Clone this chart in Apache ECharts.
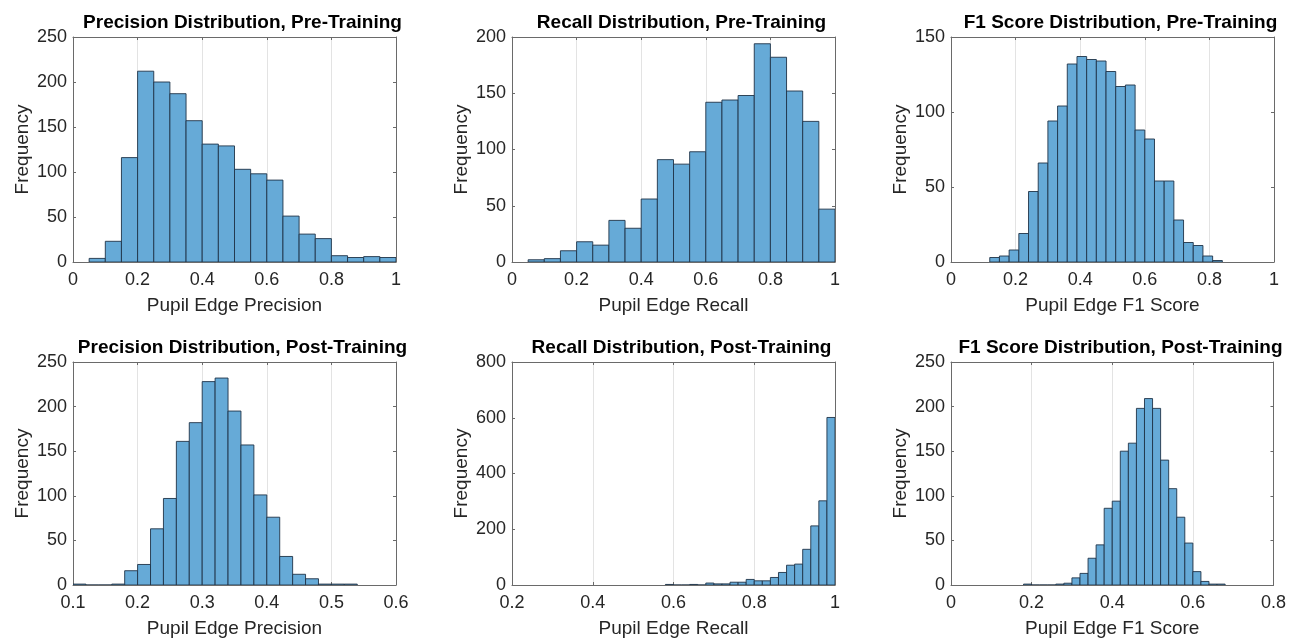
<!DOCTYPE html>
<html>
<head>
<meta charset="utf-8">
<script src="https://cdn.jsdelivr.net/npm/echarts@6/dist/echarts.min.js"></script>
<style>
html,body{margin:0;padding:0;background:#fff;}
#chart{width:1289px;height:639px;}
</style>
</head>
<body>
<div id="chart"></div>
<script>
// ---- Data ----
const titles = [
  'Precision Distribution, Pre-Training',
  'Recall Distribution, Pre-Training',
  'F1 Score Distribution, Pre-Training',
  'Precision Distribution, Post-Training',
  'Recall Distribution, Post-Training',
  'F1 Score Distribution, Post-Training'
];
const xNames = [
  'Pupil Edge Precision', 'Pupil Edge Recall', 'Pupil Edge F1 Score',
  'Pupil Edge Precision', 'Pupil Edge Recall', 'Pupil Edge F1 Score'
];
const yName = 'Frequency';

// bin start and bin width per panel
const binStart = [0.05, 0.05, 0.12, 0.10, 0.58, 0.18];
const binWidth = [0.05, 0.05, 0.03, 0.02, 0.02, 0.02];

// counts per bin
const precisionPre  = [4, 23, 116, 212, 200, 187, 157, 131, 129, 103, 98, 91, 51, 31, 26, 7, 5, 6, 5];
const recallPre     = [2, 3, 10, 18, 15, 37, 30, 56, 91, 87, 98, 142, 144, 148, 194, 182, 152, 125, 47];
const f1Pre         = [3, 4, 8, 19, 47, 66, 94, 104, 132, 137, 135, 134, 127, 117, 118, 88, 82, 54, 54, 28, 13, 11, 4, 1];
const precisionPost = [1, 0, 0, 1, 16, 23, 63, 97, 161, 182, 228, 232, 195, 157, 101, 76, 32, 12, 7, 1, 1, 1];
const recallPost    = [2, 0, 0, 2, 0, 7, 4, 4, 10, 10, 20, 15, 15, 27, 45, 71, 75, 128, 212, 302, 601];
const f1Post        = [1, 0, 0, 0, 1, 2, 8, 13, 30, 45, 86, 94, 150, 159, 198, 209, 198, 140, 108, 76, 47, 15, 4, 1, 1];

// axis ranges / ticks
const xMin = [0, 0, 0, 0.1, 0.2, 0];
const xMax = [1, 1, 1, 0.6, 1, 0.8];
const xInterval = [0.2, 0.2, 0.2, 0.1, 0.2, 0.2];
const yMax = [250, 200, 150, 250, 800, 250];
const yInterval = [50, 50, 50, 50, 200, 50];

const counts = [precisionPre, recallPre, f1Pre, precisionPost, recallPost, f1Post];

// ---- Layout ----
const gridLefts = [73, 512, 951];
const gridTops = [37, 362];
const gridW = 323, gridH = 225;
const FONT = '"Liberation Sans", Arial, Helvetica, sans-serif';
const TXT = '#262626';
const BOX = '#6a6a6a';

const grids = [], xAxes = [], yAxes = [], series = [], titleOpts = [];

for (let i = 0; i < 6; i++) {
  const col = i % 3, row = Math.floor(i / 3);
  grids.push({left: gridLefts[col], top: gridTops[row], width: gridW, height: gridH, containLabel: false});
  titleOpts.push({
    text: titles[i],
    left: gridLefts[col] + gridW / 2 + 3,
    top: gridTops[row] - 29,
    textAlign: 'center',
    textStyle: {fontFamily: FONT, fontWeight: 'bold', fontSize: 19, color: '#000'}
  });
  const common = {
    type: 'value', gridIndex: i, min: xMin[i], max: xMax[i], interval: xInterval[i]
  };
  xAxes.push(Object.assign({}, common, {
    position: 'bottom',
    name: xNames[i], nameLocation: 'middle', nameGap: 34,
    nameTextStyle: {fontFamily: FONT, fontSize: 19, color: TXT},
    axisLine: {show: true, onZero: false, lineStyle: {color: BOX, width: 1}},
    axisTick: {show: true, inside: true, length: 3, lineStyle: {color: BOX}},
    axisLabel: {show: true, margin: 9, fontFamily: FONT, fontSize: 18, color: TXT},
    splitLine: {show: true, lineStyle: {color: '#e3e3e3', width: 1}}
  }));
  xAxes.push(Object.assign({}, common, {
    position: 'top',
    axisLine: {show: true, onZero: false, lineStyle: {color: BOX, width: 1}},
    axisTick: {show: true, inside: true, length: 3, lineStyle: {color: BOX}},
    axisLabel: {show: false},
    splitLine: {show: false}
  }));
  const ycommon = {type: 'value', gridIndex: i, min: 0, max: yMax[i], interval: yInterval[i]};
  yAxes.push(Object.assign({}, ycommon, {
    position: 'left',
    name: yName, nameLocation: 'middle', nameGap: 41,
    nameTextStyle: {fontFamily: FONT, fontSize: 19, color: TXT},
    axisLine: {show: true, onZero: false, lineStyle: {color: BOX, width: 1}},
    axisTick: {show: true, inside: true, length: 3, lineStyle: {color: BOX}},
    axisLabel: {show: true, margin: 6, fontFamily: FONT, fontSize: 18, color: TXT},
    splitLine: {show: false}
  }));
  yAxes.push(Object.assign({}, ycommon, {
    position: 'right',
    axisLine: {show: true, onZero: false, lineStyle: {color: BOX, width: 1}},
    axisTick: {show: true, inside: true, length: 3, lineStyle: {color: BOX}},
    axisLabel: {show: false},
    splitLine: {show: false}
  }));

  const data = counts[i].map((c, k) => {
    const a = binStart[i] + k * binWidth[i];
    return [a, a + binWidth[i], c];
  });
  series.push({
    type: 'custom',
    xAxisIndex: 2 * i,
    yAxisIndex: 2 * i,
    data: data,
    clip: true,
    renderItem: function (params, api) {
      const p0 = api.coord([api.value(0), api.value(2)]);
      const p1 = api.coord([api.value(1), 0]);
      return {
        type: 'rect',
        shape: {x: p0[0], y: p0[1], width: p1[0] - p0[0], height: p1[1] - p0[1]},
        style: {fill: '#66AAD7', stroke: '#1f3347', lineWidth: 0.9}
      };
    }
  });
}

const chart = echarts.init(document.getElementById('chart'), null, {renderer: 'canvas'});
chart.setOption({
  backgroundColor: '#ffffff',
  animation: false,
  title: titleOpts,
  grid: grids,
  xAxis: xAxes,
  yAxis: yAxes,
  series: series
});
</script>
</body>
</html>
